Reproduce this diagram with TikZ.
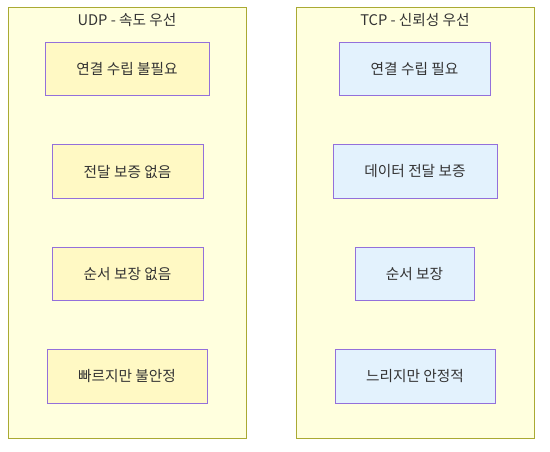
\documentclass[tikz,border=0pt]{standalone}
\usepackage{fontspec}
\setmainfont{Noto Sans CJK KR}
\definecolor{clfill}{HTML}{FFFFDE}
\definecolor{cldraw}{HTML}{AAAA33}
\definecolor{nddraw}{HTML}{9370DB}
\definecolor{udpfill}{HTML}{FFF9C4}
\definecolor{tcpfill}{HTML}{E3F2FD}
\definecolor{txt}{HTML}{333333}
\begin{document}
\begin{tikzpicture}[x=0.75pt,y=-0.75pt,
  cluster/.style={draw=cldraw,fill=clfill,line width=0.75pt},
  title/.style={text=txt,font=\fontsize{11pt}{13pt}\selectfont,inner sep=0pt},
  box/.style={rectangle,draw=nddraw,line width=0.75pt,text=txt,font=\fontsize{11pt}{13pt}\selectfont,inner sep=0pt,minimum height=40pt},
  udp/.style={box,fill=udpfill},
  tcp/.style={box,fill=tcpfill}]
\useasboundingbox (0,0) rectangle (550,452);
\fill[white] (0,0) rectangle (550,452);
% clusters
\draw[cluster] (8,8) rectangle (246,438);
\draw[cluster] (296,8) rectangle (534,438);
\node[title] (t1) at (127,20) {UDP - 속도 우선};
\node[title] (t2) at (415,20) {TCP - 신뢰성 우선};
% UDP nodes
\node[udp,minimum width=123pt] (u1) at (127,69) {연결 수립 불필요};
\node[udp,minimum width=113.25pt] (u2) at (127.5,171.5) {전달 보증 없음};
\node[udp,minimum width=113.25pt] (u3) at (127.5,274) {순서 보장 없음};
\node[udp,minimum width=120pt] (u4) at (127,376.5) {빠르지만 불안정};
% TCP nodes
\node[tcp,minimum width=113.25pt] (c1) at (414.5,69) {연결 수립 필요};
\node[tcp,minimum width=123pt] (c2) at (415,171.5) {데이터 전달 보증};
\node[tcp,minimum width=89.25pt] (c3) at (414.5,274) {순서 보장};
\node[tcp,minimum width=120pt] (c4) at (415,376.5) {느리지만 안정적};
\end{tikzpicture}
\end{document}
